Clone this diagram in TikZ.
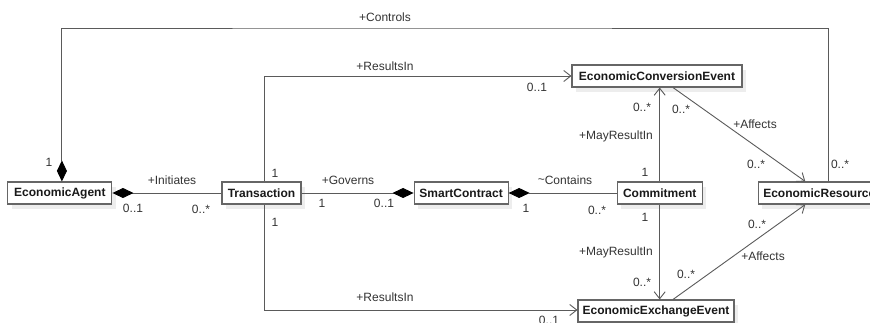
\documentclass[tikz,border=0pt]{standalone}
\usepackage{fontspec}
\setmainfont{Liberation Sans}
\usepackage{tikz}
\usetikzlibrary{arrows.meta,positioning,shadows}
\definecolor{linegray}{HTML}{5A5A5A}
\definecolor{boxgray}{HTML}{666666}
\definecolor{labgray}{HTML}{333333}
\newcommand{\umlfont}{\fontsize{12}{14}\selectfont}
\tikzstyle{umlclass}=[draw=boxgray,line width=1.1pt,fill=white,font=\umlfont\bfseries,text=black!90,minimum height=22pt,inner sep=0pt,drop shadow={shadow xshift=4pt,shadow yshift=-5pt,fill=black!7,opacity=1}]
\tikzstyle{assoc}=[draw=linegray,line width=0.9pt,-{Straight Barb[length=7pt,width=11pt]}]
\tikzstyle{compose}=[draw=linegray,line width=0.9pt,-{Diamond[length=21pt,width=10pt,color=black,fill=black]}]
\tikzstyle{role}=[font=\umlfont,text=labgray,inner sep=0pt]

\begin{document}
\begin{tikzpicture}[x=1pt,y=-1pt]
            \useasboundingbox (0,0) rectangle (870,323);
            % classes
            \node[umlclass,minimum width=79pt] (trans) at (261.5,193) {Transaction};
            \node[umlclass,minimum width=104pt,left=109pt of trans] (agent) {EconomicAgent};
            \node[umlclass,minimum width=94pt,right=112pt of trans] (smart) {SmartContract};
            \node[umlclass,minimum width=85pt,right=108pt of smart] (commit) {Commitment};
            \node[umlclass,minimum width=122pt,right=55pt of commit] (res) {EconomicResource};
            \node[umlclass,minimum width=170pt] (conv) at (657,76) {EconomicConversionEvent};
            \node[umlclass,minimum width=156pt] (exch) at (656,311) {EconomicExchangeEvent};
            \coordinate (ctrl) at (400,28);
            % compositions
            \draw[compose] (trans) -- (agent);
            \draw[compose] (trans) -- (smart);
            \draw[compose] (commit) -- (smart);
            \draw[compose] ([xshift=9pt]res.north) |- (ctrl) -| ([xshift=2pt]agent.north);
            % associations
            \draw[assoc] ([xshift=2.5pt]trans.north) |- (conv.west);
            \draw[assoc] ([xshift=2.5pt]trans.south) |- ([yshift=1pt]exch.west);
            \draw[assoc] (commit.north) -- (commit.north |- conv.south);
            \draw[assoc] (commit.south) -- (commit.south |- exch.north);
            \draw[assoc] ([xshift=16pt]conv.south) -- ([xshift=-14pt]res.north);
            \draw[assoc] ([xshift=17pt]exch.north) -- ([xshift=-14pt]res.south);
            % role names
            \node[role] (rCtrl) at (385,17) {+Controls};
            \node[role] (rResUp) at (385,66) {+ResultsIn};
            \node[role] (rResDn) at (385,297) {+ResultsIn};
            \node[role] (rInit) at (172,180) {+Initiates};
            \node[role] (rGov) at (348,180) {+Governs};
            \node[role] (rCont) at (565,180) {\raisebox{.2ex}{\textasciitilde}Contains};
            \node[role] (rMayUp) at (616,136) {+MayResultIn};
            \node[role] (rMayDn) at (616,252) {+MayResultIn};
            \node[role] (rAffUp) at (755,124) {+Affects};
            \node[role] (rAffDn) at (763,256) {+Affects};
            % multiplicities
            \node[role] (m1) at (49,162) {1};
            \node[role] (m2) at (840,164) {0..*};
            \node[role] (m3) at (537,87) {0..1};
            \node[role] (m4) at (275,173) {1};
            \node[role] (m5) at (133,208) {0..1};
            \node[role] (m6) at (201,209) {0..*};
            \node[role] (m7) at (322,203) {1};
            \node[role] (m8) at (384,203) {0..1};
            \node[role] (m9) at (526,208) {1};
            \node[role] (m10) at (597,210) {0..*};
            \node[role] (m11) at (275,222) {1};
            \node[role] (m12) at (642,107) {0..*};
            \node[role] (m13) at (645,172) {1};
            \node[role] (m14) at (681,109) {0..*};
            \node[role] (m15) at (756,164) {0..*};
            \node[role] (m16) at (645,217) {1};
            \node[role] (m17) at (642,282) {0..*};
            \node[role] (m18) at (686,274) {0..*};
            \node[role] (m19) at (757,224) {0..*};
            \node[role] (m20) at (549,320) {0..1};
        \end{tikzpicture}
\end{document}
